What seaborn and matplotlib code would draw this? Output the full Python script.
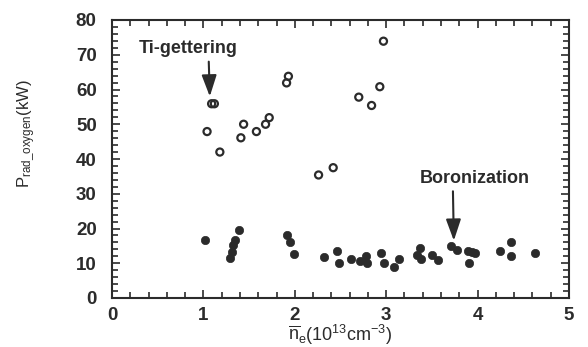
import matplotlib
matplotlib.use("Agg")
import matplotlib.pyplot as plt
import seaborn as sns
import pandas as pd
from matplotlib.ticker import MultipleLocator

# Before Ti-gettering / boronization (open circles)
open_x = [1.04, 1.09, 1.12, 1.18, 1.41, 1.44, 1.58, 1.68, 1.72, 1.91, 1.93,
          2.26, 2.42, 2.70, 2.84, 2.93, 2.97]
open_y = [47.9, 55.9, 55.9, 42.0, 46.1, 50.0, 47.9, 50.0, 51.9, 61.9, 63.8,
          35.4, 37.5, 57.8, 55.4, 60.8, 73.9]

# After wall conditioning (filled circles)
filled_x = [1.02, 1.29, 1.31, 1.32, 1.35, 1.39, 1.91, 1.95, 1.99,
            2.32, 2.46, 2.48, 2.62, 2.71, 2.78, 2.79, 2.94, 2.98, 3.08, 3.14,
            3.34, 3.37, 3.38, 3.50, 3.57, 3.71, 3.77, 3.90, 3.94, 3.97, 3.91,
            4.24, 4.37, 4.37, 4.63]
filled_y = [16.6, 11.6, 13.2, 15.2, 16.8, 19.6, 18.0, 16.0, 12.7,
            11.9, 13.6, 10.0, 11.1, 10.6, 12.1, 10.2, 13.0, 10.2, 8.8, 11.2,
            12.4, 14.4, 11.1, 12.3, 10.9, 15.0, 13.8, 13.4, 13.3, 12.9, 10.1,
            13.5, 16.1, 12.2, 12.9]

x_ticks = [0, 1, 2, 3, 4, 5]
y_ticks = [0, 10, 20, 30, 40, 50, 60, 70, 80]

sns.set_style("ticks")
plt.rcParams["font.family"] = ["Liberation Sans", "DejaVu Sans"]
plt.rcParams["mathtext.fontset"] = "custom"
plt.rcParams["mathtext.rm"] = "Liberation Sans"
plt.rcParams["mathtext.it"] = "Liberation Sans:italic"
plt.rcParams["mathtext.bf"] = "Liberation Sans:bold"

ink = "#2b2b2b"

fig = plt.figure(figsize=(5.88, 3.47), dpi=100)
ax = fig.add_axes([112/588, 1-298/347, 457/588, 278/347])

df_open = pd.DataFrame({"ne": open_x, "p": open_y})
df_fill = pd.DataFrame({"ne": filled_x, "p": filled_y})

sns.scatterplot(data=df_open, x="ne", y="p", ax=ax, marker="o", s=26,
                facecolor="none", edgecolor=ink, linewidth=1.6, legend=False)
sns.scatterplot(data=df_fill, x="ne", y="p", ax=ax, marker="o", s=36,
                color=ink, edgecolor=ink, linewidth=0.5, legend=False)

ax.set_xlim(0, 5)
ax.set_ylim(0, 80)
ax.set_xticks(x_ticks)
ax.set_yticks(y_ticks)
ax.xaxis.set_minor_locator(MultipleLocator(0.2))
ax.yaxis.set_minor_locator(MultipleLocator(2))
ax.tick_params(which="both", direction="in", top=True, right=True,
               color=ink, width=1.2)
ax.tick_params(which="major", length=6, labelsize=13.5, labelcolor=ink)
ax.tick_params(axis="y", which="major", pad=11)
ax.tick_params(axis="x", which="major", pad=6.5)
ax.tick_params(which="minor", length=4)
for lab in ax.get_xticklabels() + ax.get_yticklabels():
    lab.set_fontweight("bold")
for sp in ax.spines.values():
    sp.set_linewidth(1.5)
    sp.set_color(ink)

ax.set_xlabel(r"$\overline{\mathrm{n}}_{\mathrm{e}}\mathrm{(10^{13}cm^{-3})}$",
              fontsize=13, color=ink, labelpad=-1)
ax.set_ylabel(r"$\mathrm{P_{rad\_oxygen}(kW)}$", fontsize=12, color=ink)
ax.yaxis.set_label_coords(-0.165, 0.59)

ax.annotate("Ti-gettering", xy=(1.07, 58), xytext=(0.83, 71.8),
            ha="center", va="center", fontsize=13, fontweight="bold", color=ink,
            arrowprops=dict(arrowstyle="-|>,head_width=0.35,head_length=1.0",
                            color=ink, lw=1.5, shrinkA=1, shrinkB=0,
                            relpos=(0.71, 0.0)))
ax.annotate("Boronization", xy=(3.74, 16.5), xytext=(3.97, 34.5),
            ha="center", va="center", fontsize=13, fontweight="bold", color=ink,
            arrowprops=dict(arrowstyle="-|>,head_width=0.35,head_length=1.0",
                            color=ink, lw=1.5, shrinkA=1, shrinkB=0,
                            relpos=(0.3, 0.0)))

fig.savefig("out.png", dpi=100)
